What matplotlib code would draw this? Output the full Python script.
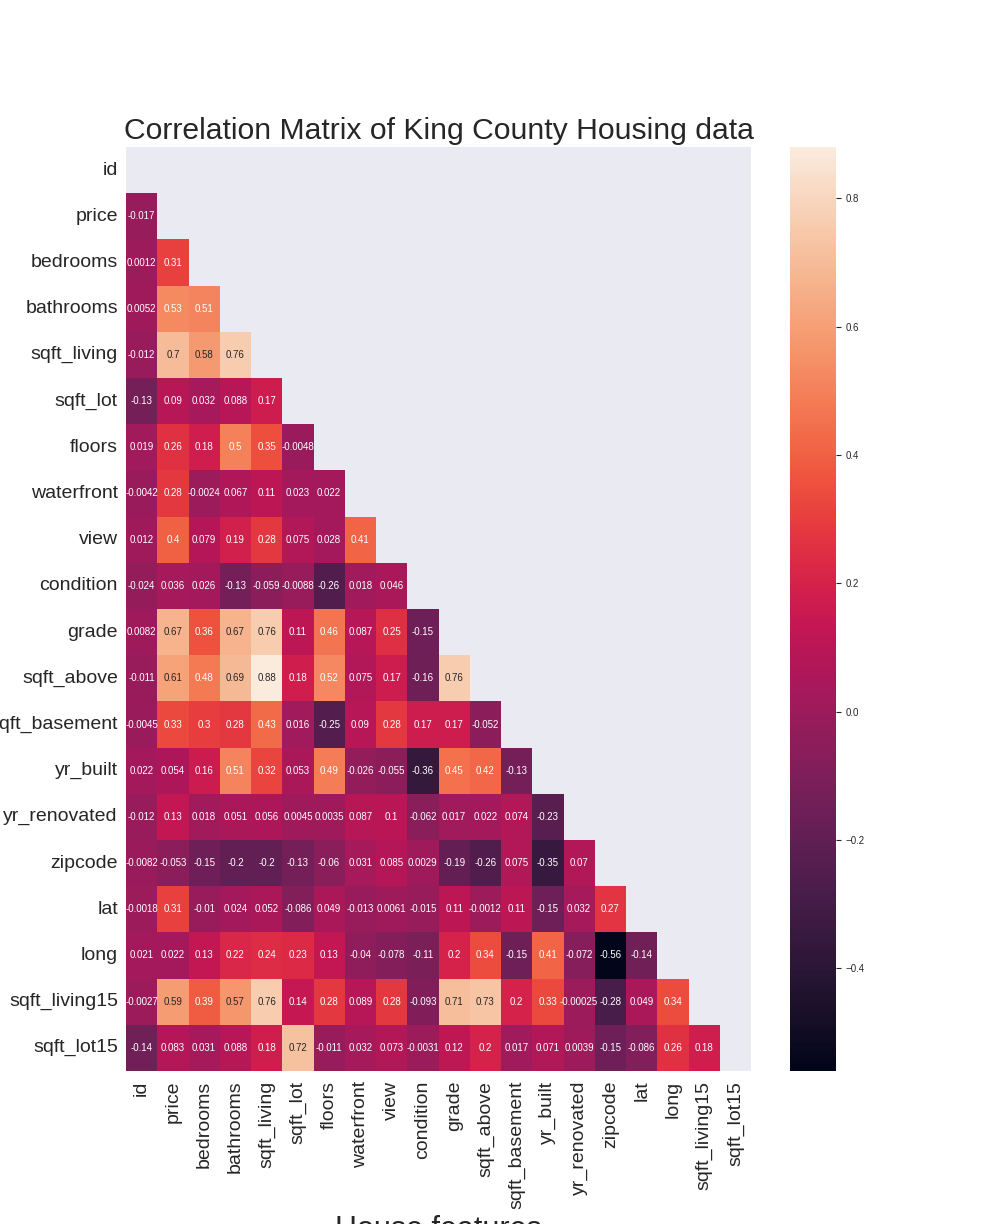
import numpy as np
import pandas as pd
import seaborn as sns
from matplotlib import pyplot as plt

features = ['id', 'price', 'bedrooms', 'bathrooms', 'sqft_living', 'sqft_lot',
            'floors', 'waterfront', 'view', 'condition', 'grade', 'sqft_above',
            'sqft_basement', 'yr_built', 'yr_renovated', 'zipcode', 'lat', 'long',
            'sqft_living15', 'sqft_lot15']

# lower triangle of the correlation matrix, row by row (diagonal excluded)
price = [-0.017]
bedrooms = [0.0012, 0.31]
bathrooms = [0.0052, 0.53, 0.51]
sqft_living = [-0.012, 0.7, 0.58, 0.76]
sqft_lot = [-0.13, 0.09, 0.032, 0.088, 0.17]
floors = [0.019, 0.26, 0.18, 0.5, 0.35, -0.0048]
waterfront = [-0.0042, 0.28, -0.0024, 0.067, 0.11, 0.023, 0.022]
view = [0.012, 0.4, 0.079, 0.19, 0.28, 0.075, 0.028, 0.41]
condition = [-0.024, 0.036, 0.026, -0.13, -0.059, -0.0088, -0.26, 0.018, 0.046]
grade = [0.0082, 0.67, 0.36, 0.67, 0.76, 0.11, 0.46, 0.087, 0.25, -0.15]
sqft_above = [-0.011, 0.61, 0.48, 0.69, 0.88, 0.18, 0.52, 0.075, 0.17, -0.16, 0.76]
sqft_basement = [-0.0045, 0.33, 0.3, 0.28, 0.43, 0.016, -0.25, 0.09, 0.28, 0.17, 0.17, -0.052]
yr_built = [0.022, 0.054, 0.16, 0.51, 0.32, 0.053, 0.49, -0.026, -0.055, -0.36, 0.45, 0.42, -0.13]
yr_renovated = [-0.012, 0.13, 0.018, 0.051, 0.056, 0.0045, 0.0035, 0.087, 0.1, -0.062,
                0.017, 0.022, 0.074, -0.23]
zipcode = [-0.0082, -0.053, -0.15, -0.2, -0.2, -0.13, -0.06, 0.031, 0.085, 0.0029,
           -0.19, -0.26, 0.075, -0.35, 0.07]
lat = [-0.0018, 0.31, -0.01, 0.024, 0.052, -0.086, 0.049, -0.013, 0.0061, -0.015,
       0.11, -0.0012, 0.11, -0.15, 0.032, 0.27]
long_ = [0.021, 0.022, 0.13, 0.22, 0.24, 0.23, 0.13, -0.04, -0.078, -0.11,
         0.2, 0.34, -0.15, 0.41, -0.072, -0.56, -0.14]
sqft_living15 = [-0.0027, 0.59, 0.39, 0.57, 0.76, 0.14, 0.28, 0.089, 0.28, -0.093,
                 0.71, 0.73, 0.2, 0.33, -0.00025, -0.28, 0.049, 0.34]
sqft_lot15 = [-0.14, 0.083, 0.031, 0.088, 0.18, 0.72, -0.011, 0.032, 0.073, -0.0031,
              0.12, 0.2, 0.017, 0.071, 0.0039, -0.15, -0.086, 0.26, 0.18]

rows = [[], price, bedrooms, bathrooms, sqft_living, sqft_lot, floors, waterfront,
        view, condition, grade, sqft_above, sqft_basement, yr_built, yr_renovated,
        zipcode, lat, long_, sqft_living15, sqft_lot15]

n = len(features)
corr = np.eye(n)
for i, r in enumerate(rows):
    for j, v in enumerate(r):
        corr[i, j] = v
        corr[j, i] = v
corr = pd.DataFrame(corr, index=features, columns=features)

sns.set_style('darkgrid')
plt.rcParams['font.family'] = ['Liberation Sans', 'DejaVu Sans']

mask = np.triu(np.ones_like(corr, dtype=bool))

fig = plt.figure(figsize=(10.08, 12.24), dpi=100)
ax = fig.add_axes([126 / 1008, 153 / 1224, 625 / 1008, 924 / 1224])
cax = fig.add_axes([790 / 1008, 153 / 1224, 46 / 1008, 924 / 1224])

sns.heatmap(corr, mask=mask, annot=True, annot_kws={'size': 7}, ax=ax, cbar_ax=cax)
ax.grid(False)
cax.grid(False)
cax.tick_params(labelsize=7)

ax.set_title('Correlation Matrix of King County Housing data', fontsize=21.7)
ax.set_xlabel('House features', fontsize=22)
ax.set_xticklabels(features, rotation=90, fontsize=14)
ax.set_yticklabels(features, rotation=0, fontsize=14)
ax.tick_params(axis='y', pad=2.3)

fig.savefig('out.png', dpi=100)
